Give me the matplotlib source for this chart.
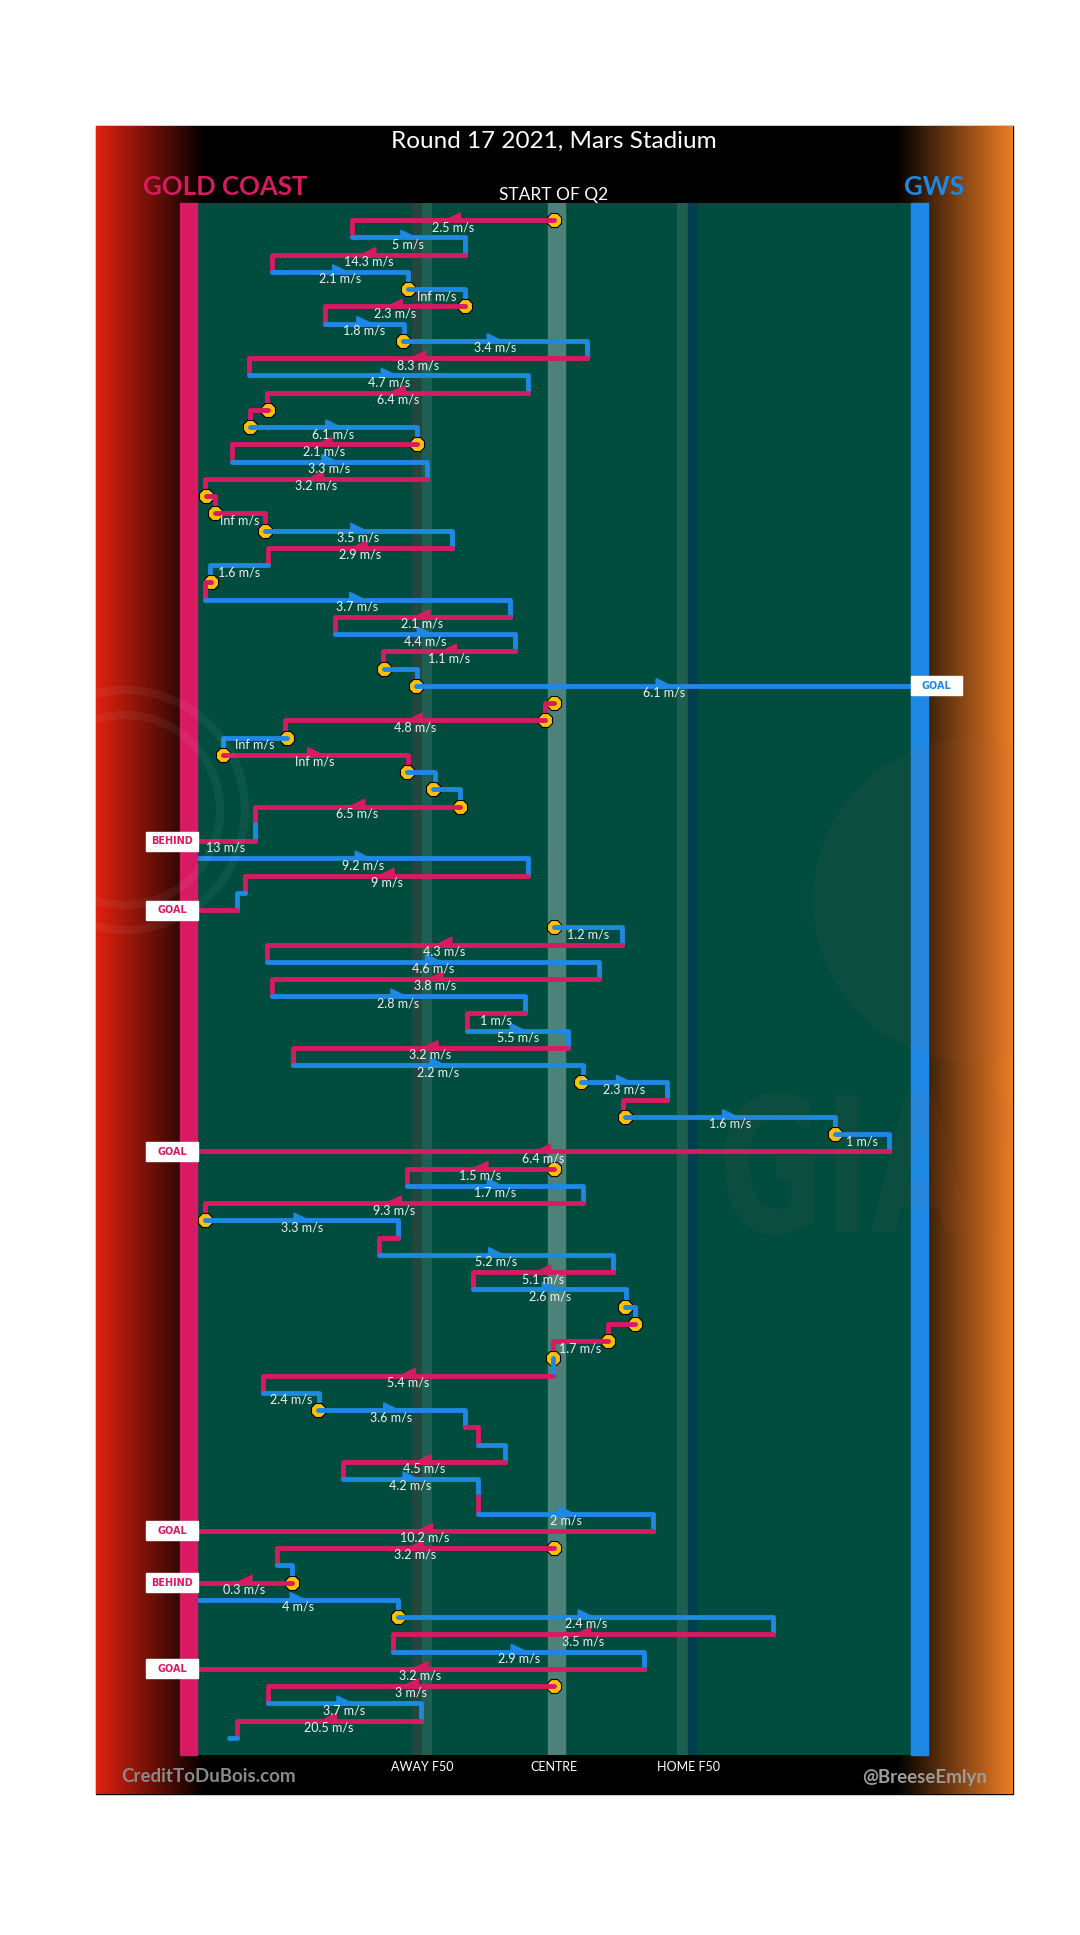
import matplotlib.pyplot as plt
import numpy as np
from matplotlib.patches import Rectangle, Polygon, Circle, PathPatch
from matplotlib.textpath import TextPath
from matplotlib.font_manager import FontProperties
from matplotlib.transforms import Affine2D

plt.rcParams['font.family'] = ['Lato', 'DejaVu Sans']

# chain of possessions, one row per step
# field position: 0 = Gold Coast goal line, 100 = GWS goal line
teams = ['GC', 'GWS', 'GC', 'GWS', 'GWS', 'GC', 'GWS', 'GWS', 'GC', 'GWS',
         'GC', 'GC', 'GWS', 'GC', 'GWS', 'GC', 'GC', 'GC', 'GWS', 'GC',
         'GWS', 'GC', 'GWS', 'GC', 'GWS', 'GC', 'GWS', 'GWS', 'GC', 'GC',
         'GWS', 'GC', 'GWS', 'GWS', 'GC', 'GWS', 'GC', 'GWS', 'GC', 'GWS',
         'GC', 'GWS', 'GC', 'GWS', 'GC', 'GWS', 'GC', 'GWS', 'GC', 'GWS',
         'GWS', 'GC', 'GWS', 'GWS', 'GC', 'GC', 'GWS', 'GC', 'GWS', 'GC',
         'GWS', 'GC', 'GWS', 'GWS', 'GC', 'GC', 'GWS', 'GC', 'GWS', 'GWS',
         'GC', 'GWS', 'GC', 'GWS', 'GC', 'GWS', 'GC', 'GC', 'GWS', 'GC',
         'GWS', 'GWS', 'GC', 'GWS', 'GC', 'GC', 'GWS', 'GC', 'GWS']

x_start = [50.0, 21.7, 37.5, 10.5, 29.6, 37.5, 17.9, 28.8, 54.6, 7.3,
           46.4, 9.9, 7.4, 30.8, 4.9, 32.2, 1.3, 2.5, 9.5, 35.7,
           9.9, 2.0, 1.1, 43.8, 19.3, 44.5, 26.2, 30.7, 50.0, 48.7,
           12.6, 3.6, 29.4, 33.0, 36.8, 8.1, 8.1, 0.0, 46.4, 6.7,
           5.6, 50.0, 59.5, 9.8, 56.3, 10.5, 45.9, 37.8, 52.0, 13.4,
           53.8, 65.8, 59.9, 89.3, 96.9, 50.0, 29.4, 54.0, 1.1, 28.2,
           25.5, 58.3, 38.7, 59.9, 61.3, 57.5, 49.8, 49.8, 9.2, 16.9,
           37.5, 39.4, 43.1, 20.4, 39.4, 39.4, 63.9, 50.0, 11.2, 13.3,
           0.0, 28.2, 80.7, 27.5, 62.6, 50.0, 9.9, 31.4, 5.6]

x_end = [21.7, 37.5, 10.5, 29.6, 37.5, 17.9, 29.0, 54.6, 7.3, 46.4,
         9.8, 7.4, 30.8, 4.9, 32.2, 1.1, 2.5, 9.5, 35.7, 9.9,
         1.8, 1.1, 43.8, 19.3, 44.5, 26.1, 30.8, 100.0, 48.7, 12.3,
         3.6, 29.5, 33.3, 36.8, 8.1, 8.1, 0.0, 46.4, 6.7, 5.6,
         0.0, 59.5, 9.8, 56.3, 10.5, 45.9, 37.8, 52.0, 13.4, 54.0,
         65.8, 59.7, 89.4, 96.9, 0.0, 29.4, 54.0, 1.1, 28.2, 25.5,
         58.3, 38.7, 60.1, 61.3, 57.5, 49.8, 49.8, 9.2, 17.1, 37.5,
         39.4, 43.1, 20.4, 39.4, 39.4, 63.9, 0.0, 11.2, 13.3, 0.0,
         28.2, 80.7, 27.5, 62.6, 0.0, 9.9, 31.4, 5.6, 4.5]

speeds = ['2.5', '5', '14.3', '2.1', 'Inf', '2.3', '1.8', '3.4', '8.3', '4.7',
          '6.4', '', '6.1', '2.1', '3.3', '3.2', '', 'Inf', '3.5', '2.9',
          '1.6', '', '3.7', '2.1', '4.4', '1.1', '', '6.1', '', '4.8',
          'Inf', 'Inf', '', '', '6.5', '', '13', '9.2', '9', '',
          '', '1.2', '4.3', '4.6', '3.8', '2.8', '1', '5.5', '3.2', '2.2',
          '2.3', '', '1.6', '1', '6.4', '1.5', '1.7', '9.3', '3.3', '',
          '5.2', '5.1', '2.6', '', '', '1.7', '', '5.4', '2.4', '3.6',
          '', '', '4.5', '4.2', '', '2', '10.2', '3.2', '', '0.3',
          '4', '2.4', '3.5', '2.9', '3.2', '3', '3.7', '20.5', '']

stoppage_rows = [0, 4, 5, 7, 11, 12, 13, 16, 17, 18, 21, 26, 27, 28, 29, 30,
                 31, 32, 33, 34, 41, 50, 52, 53, 55, 58, 63, 64, 65, 66, 69,
                 77, 79, 81, 85]

score_rows = [27, 36, 40, 54, 76, 79, 84]
score_kinds = ['GOAL', 'BEHIND', 'GOAL', 'GOAL', 'GOAL', 'BEHIND', 'GOAL']

zone_pos = [31.5, 50.0, 68.8]
zone_names = ['AWAY F50', 'CENTRE', 'HOME F50']

GC_COL = '#d81b60'
GWS_COL = '#1e88e5'
FIELD = '#004d40'
STOP_COL = '#ffc107'
team_col = {'GC': GC_COL, 'GWS': GWS_COL}

fig = plt.figure(figsize=(10.8, 19.35), dpi=100)
fig.patch.set_facecolor('white')

# background / frame axes in pixel units
bg = fig.add_axes([0, 0, 1, 1])
bg.axis('off')
bg.add_patch(Rectangle((96, 126), 917, 1668, color='black', zorder=0))
xs = np.arange(96, 1013) + 0.5
left = np.clip((205 - xs) / 109, 0, 1)[:, None]
right = np.clip((xs - 897) / 116, 0, 1)[:, None]
grad = left * np.array([0.88, 0.13, 0.06]) + right * np.array([0.94, 0.49, 0.14])
bg.imshow(grad[None, :, :], extent=(96, 1013, 1794, 126), aspect='auto',
          interpolation='bilinear', zorder=1)

bg.text(554, 141, 'Round 17 2021, Mars Stadium', fontsize=17.5, color='white',
        ha='center', va='center', zorder=3)
bg.text(225, 187, 'GOLD COAST', fontsize=18.5, fontweight='bold', color=GC_COL,
        ha='center', va='center', zorder=3)
bg.text(934, 187, 'GWS', fontsize=18.5, fontweight='bold', color=GWS_COL,
        ha='center', va='center', zorder=3)
bg.text(121, 1776, 'CreditToDuBois.com', fontsize=13.5, fontweight='bold',
        color='#8a8a8a', ha='left', va='center', zorder=3)
bg.text(987, 1777, '@BreeseEmlyn', fontsize=13.5, fontweight='bold',
        color='#9c9c9c', ha='right', va='center', zorder=3)
bg.set_xlim(0, 1080)
bg.set_ylim(1935, 0)

# field axes: x in field units, y in chain rows
n = len(teams)
fa = fig.add_axes([197 / 1080, 1 - 1755 / 1935, 714 / 1080, 1552 / 1935])
fa.set_facecolor(FIELD)
for s in fa.spines.values():
    s.set_visible(False)
fa.set_xlim(0, 100)
fa.set_ylim(n, -1)
fa.set_yticks([])
fa.set_xticks(zone_pos)
fa.set_xticklabels(zone_names, color='white', fontsize=9)
fa.tick_params(axis='x', length=0, pad=4)

fa.axvspan(30.1, 31.5, color='#22473e', zorder=1)
fa.axvspan(31.5, 32.8, color='#1f5f52', zorder=1)
fa.axvspan(49.2, 51.5, color='#4c8279', zorder=1)
fa.axvspan(67.2, 68.8, color='#1f5f52', zorder=1)
fa.axvspan(68.8, 70.0, color='#013f4f', zorder=1)

fa.text(50, -1.45, 'START OF Q2', fontsize=12.5, color='white', ha='center',
        va='center', clip_on=False)

# goal-line bars
fa.add_patch(Rectangle((-2.38, -1), 2.38, n + 1, color=GC_COL, clip_on=False, zorder=500))
fa.add_patch(Rectangle((100, -1), 2.38, n + 1, color=GWS_COL, clip_on=False, zorder=500))

arrow_w, arrow_h = 2.1, 0.42
for i in range(n):
    x0, x1 = x_start[i], x_end[i]
    col = team_col[teams[i]]
    px = [x0, x1]
    py = [i, i]
    if i < n - 1 and i not in score_rows:
        px.append(x1)
        py.append(i + 1)
    if i in stoppage_rows:
        fa.plot(x0, i, marker='8', ms=11, mfc=STOP_COL, mec='black', mew=0.8,
                zorder=9 + 2 * i)
    fa.plot(px, py, color=col, lw=3.5, solid_capstyle='round',
            solid_joinstyle='round', zorder=10 + 2 * i)
    mid = (x0 + x1) / 2
    if abs(x1 - x0) >= 10:
        d = np.sign(x1 - x0)
        tri = [(mid + d * arrow_w / 2, i), (mid - d * arrow_w / 2, i - arrow_h),
               (mid - d * arrow_w / 2, i)]
        fa.add_patch(Polygon(tri, closed=True, color=col, zorder=10.5 + 2 * i))
    if speeds[i]:
        fa.text(mid, i + 0.4, speeds[i] + ' m/s', fontsize=9, color='#f0f0f0',
                ha='center', va='center', zorder=400)

# goal / behind tags at the goal line
for r, kind in zip(score_rows, score_kinds):
    if teams[r] == 'GC':
        bx, col = -7.1, GC_COL
    else:
        bx, col = 100, GWS_COL
    fa.add_patch(Rectangle((bx, r - 0.55), 7.2, 1.1, color='white',
                           clip_on=False, zorder=600))
    fa.text(bx + 3.6, r + 0.02, kind, fontsize=7, fontweight='bold', color=col,
            family=['DejaVu Sans'], ha='center', va='center', clip_on=False, zorder=601)

# faint club watermarks, on a layer above the field, clipped to the frame
wm_ax = fig.add_axes([0, 0, 1, 1], zorder=5)
wm_ax.axis('off')
wm_ax.set_xlim(0, 1080)
wm_ax.set_ylim(1935, 0)
clip_rect = Rectangle((96, 126), 917, 1668, transform=wm_ax.transData)
wm = (0.78, 0.4, 0.24)

c1 = Circle((975, 900), 162, color=wm, alpha=0.06, lw=0)
wm_ax.add_patch(c1)
c1.set_clip_path(clip_rect)

tp = TextPath((0, 0), 'GIANTS', size=188,
              prop=FontProperties(family='DejaVu Sans', weight='bold'))
gpath = Affine2D().scale(0.68, -1).translate(718, 1232).transform_path(tp)
gp = PathPatch(gpath, color=wm, alpha=0.06, lw=0)
wm_ax.add_patch(gp)
gp.set_clip_path(clip_rect)

for rad in (95, 120):
    ring = Circle((125, 810), rad, fill=False, ec='white', lw=6, alpha=0.05)
    wm_ax.add_patch(ring)
    ring.set_clip_path(clip_rect)

wm_ax.set_xlim(0, 1080)
wm_ax.set_ylim(1935, 0)

fig.savefig('out.png', dpi=100, facecolor='white')
